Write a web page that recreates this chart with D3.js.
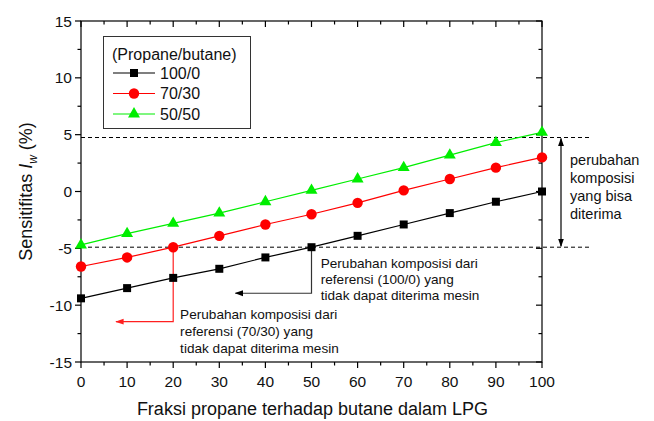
<!DOCTYPE html>
<html lang="en">
<head>
<meta charset="UTF-8">
<title>Sensitifitas Iw</title>
<style>
  body { margin: 0; background: #fff; }
  text { font-family: "Liberation Sans", Arial, sans-serif; fill: #111; }
</style>
</head>
<body>
<script src="https://d3js.org/d3.v7.min.js"></script>
<script>
// data
const fraksi = [0, 10, 20, 30, 40, 50, 60, 70, 80, 90, 100];
const s100_0 = [-9.4, -8.5, -7.6, -6.8, -5.8, -4.9, -3.9, -2.9, -1.9, -0.9, 0.0];
const s70_30 = [-6.6, -5.8, -4.9, -3.9, -2.9, -2.0, -1.0, 0.1, 1.1, 2.1, 3.0];
const s50_50 = [-4.7, -3.7, -2.8, -1.9, -0.9, 0.1, 1.1, 2.1, 3.2, 4.3, 5.2];
const seriesNames = ["100/0", "70/30", "50/50"];
const xTicks = [0, 10, 20, 30, 40, 50, 60, 70, 80, 90, 100];
const yTicks = [-15, -10, -5, 0, 5, 10, 15];
const batasAtas = 4.75, batasBawah = -4.9;
const teksKanan = ["perubahan", "komposisi", "yang bisa", "diterima"];
const teks100 = ["Perubahan komposisi dari", "referensi (100/0) yang", "tidak dapat diterima mesin"];
const teks70 = ["Perubahan komposisi dari", "referensi (70/30) yang", "tidak dapat diterima mesin"];

const W = 654, H = 421;
const m = {left: 81, right: 112, top: 21, bottom: 59};

const svg = d3.select("body").append("svg")
    .attr("width", W).attr("height", H);

const x = d3.scaleLinear().domain([0, 100]).range([m.left, W - m.right]);
const y = d3.scaleLinear().domain([-15, 15]).range([H - m.bottom, m.top]);

const defs = svg.append("defs");
function arrowHead(id, color) {
    defs.append("marker").attr("id", id)
        .attr("viewBox", "0 0 10 10").attr("refX", 9).attr("refY", 5)
        .attr("markerWidth", 7).attr("markerHeight", 7)
        .attr("orient", "auto-start-reverse")
        .append("path").attr("d", "M0,1.5 L10,5 L0,8.5 Z").attr("fill", color);
}
arrowHead("ah-black", "#000");
arrowHead("ah-red", "#ff2020");

// axes (origin-style frame)
const minorX = d3.range(0, 101, 5);
const minorY = d3.range(-15, 15.1, 2.5);
function tickLen(v, step) { return Math.abs(v % step) < 1e-9 ? 6 : 3.5; }

const ax = svg.append("g").attr("stroke", "#000").attr("stroke-width", 1.2);
ax.append("rect").attr("x", x(0)).attr("y", y(15))
    .attr("width", x(100) - x(0)).attr("height", y(-15) - y(15))
    .attr("fill", "none");

minorX.forEach(v => {
    const L = tickLen(v, 10);
    ax.append("line").attr("x1", x(v)).attr("x2", x(v)).attr("y1", y(-15)).attr("y2", y(-15) + L);
    ax.append("line").attr("x1", x(v)).attr("x2", x(v)).attr("y1", y(15)).attr("y2", y(15) + L);
});
minorY.forEach(v => {
    const L = tickLen(v, 5);
    ax.append("line").attr("y1", y(v)).attr("y2", y(v)).attr("x1", x(0)).attr("x2", x(0) - L);
    ax.append("line").attr("y1", y(v)).attr("y2", y(v)).attr("x1", x(100)).attr("x2", x(100) - L);
});

svg.append("g").selectAll("text").data(xTicks).join("text")
    .attr("x", d => x(d)).attr("y", y(-15) + 25)
    .attr("text-anchor", "middle").attr("font-size", 15.5)
    .text(d => d);
svg.append("g").selectAll("text").data(yTicks).join("text")
    .attr("x", x(0) - 9).attr("y", d => y(d) + 5.5)
    .attr("text-anchor", "end").attr("font-size", 15.5)
    .text(d => d);

svg.append("text")
    .attr("x", (x(0) + x(100)) / 2 + 1).attr("y", 415)
    .attr("text-anchor", "middle").attr("font-size", 18)
    .text("Fraksi propane terhadap butane dalam LPG");

const yl = svg.append("text")
    .attr("transform", `translate(32,${y(0)}) rotate(-90)`)
    .attr("text-anchor", "middle").attr("font-size", 18);
yl.append("tspan").text("Sensitifitas ");
yl.append("tspan").attr("font-style", "italic").text("I");
yl.append("tspan").attr("font-style", "italic").attr("font-size", 12).attr("dy", 5).text("w");
yl.append("tspan").attr("dy", -5).text(" (%)");

// limit lines
[batasAtas, batasBawah].forEach(v => {
    svg.append("line").attr("x1", x(0)).attr("x2", x(100) + 47)
        .attr("y1", y(v)).attr("y2", y(v))
        .attr("stroke", "#000").attr("stroke-width", 1)
        .attr("stroke-dasharray", "4,3");
});

svg.append("line").attr("x1", x(100) + 19).attr("x2", x(100) + 19)
    .attr("y1", y(batasAtas) + 1).attr("y2", y(batasBawah) - 1)
    .attr("stroke", "#000").attr("stroke-width", 1.2)
    .attr("marker-start", "url(#ah-black)").attr("marker-end", "url(#ah-black)");

svg.append("g").selectAll("text").data(teksKanan).join("text")
    .attr("x", x(100) + 28).attr("y", (d, i) => 165 + i * 18)
    .attr("font-size", 14.5).text(d => d);

// annotation callouts
const call100 = [[50, batasBawah], [50, -8.95], [33.5, -8.95]];
const call70 = [[20, batasBawah], [20, -11.45], [7.6, -11.45]];
const callLine = d3.line().x(d => x(d[0])).y(d => y(d[1]));
svg.append("path").attr("d", callLine(call100)).attr("fill", "none")
    .attr("stroke", "#333").attr("stroke-width", 1.2).attr("marker-end", "url(#ah-black)");
svg.append("path").attr("d", callLine(call70)).attr("fill", "none")
    .attr("stroke", "#ff2020").attr("stroke-width", 1.2).attr("marker-end", "url(#ah-red)");

svg.append("g").selectAll("text").data(teks100).join("text")
    .attr("x", x(52)).attr("y", (d, i) => 268 + i * 15.8)
    .attr("font-size", 13.6).text(d => d);
svg.append("g").selectAll("text").data(teks70).join("text")
    .attr("x", x(21.5)).attr("y", (d, i) => 319 + i * 17)
    .attr("font-size", 13.6).text(d => d);

// series
const series = [
    {name: seriesNames[0], vals: s100_0, color: "#000", shape: d3.symbolSquare, size: 64},
    {name: seriesNames[1], vals: s70_30, color: "#ff0000", shape: d3.symbolCircle, size: 85},
    {name: seriesNames[2], vals: s50_50, color: "#00ee00", shape: d3.symbolTriangle, size: 62}
];
const line = d3.line().x((d, i) => x(fraksi[i])).y(d => y(d));
series.forEach(s => {
    svg.append("path").attr("d", line(s.vals)).attr("fill", "none")
        .attr("stroke", s.color).attr("stroke-width", 1.2);
    svg.append("g").selectAll("path").data(s.vals).join("path")
        .attr("transform", (d, i) => `translate(${x(fraksi[i])},${y(d)})`)
        .attr("d", d3.symbol().type(s.shape).size(s.size))
        .attr("fill", s.color);
});

// legend
const lg = svg.append("g");
lg.append("rect").attr("x", 103.5).attr("y", 36.5).attr("width", 147).attr("height", 92)
    .attr("fill", "#fff").attr("stroke", "#333").attr("stroke-width", 1);
lg.append("text").attr("x", 112).attr("y", 60).attr("font-size", 16).text("(Propane/butane)");
series.forEach((s, i) => {
    const yy = 73 + i * 20.5;
    lg.append("line").attr("x1", 113).attr("x2", 155).attr("y1", yy).attr("y2", yy)
        .attr("stroke", s.color).attr("stroke-width", 1.2);
    lg.append("path").attr("transform", `translate(134,${yy})`)
        .attr("d", d3.symbol().type(s.shape).size(s.size)).attr("fill", s.color);
    lg.append("text").attr("x", 160).attr("y", yy + 5.5).attr("font-size", 16).text(s.name);
});
</script>
</body>
</html>
